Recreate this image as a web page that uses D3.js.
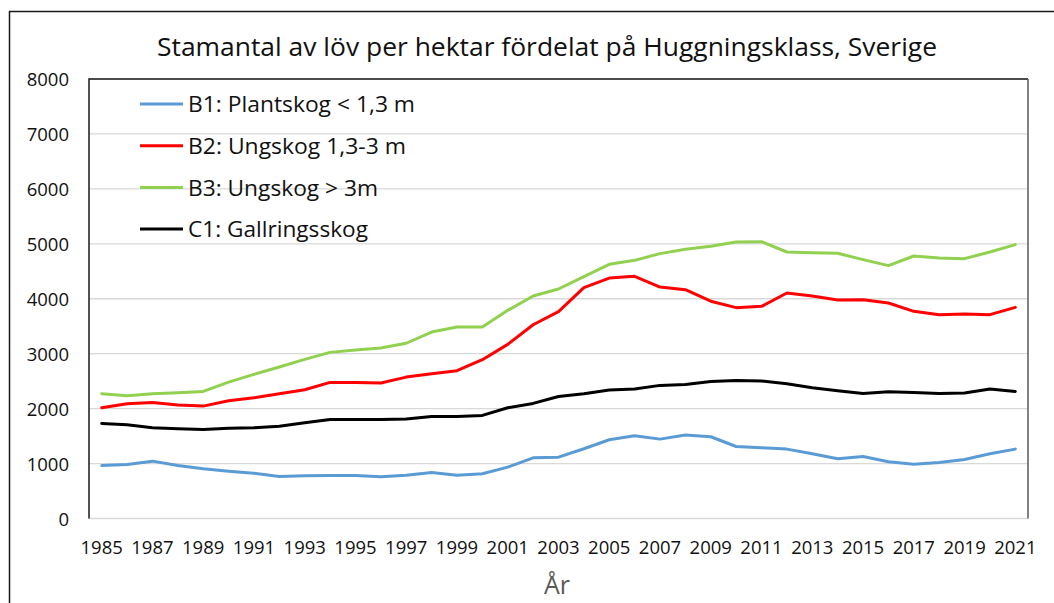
<!DOCTYPE html>
<html>
<head>
<meta charset="utf-8">
<script src="https://cdn.jsdelivr.net/npm/d3@7"></script>
<style>
  html, body { margin: 0; padding: 0; background: #fff; }
  svg { display: block; font-family: "Open Sans", sans-serif; }
</style>
</head>
<body>
<svg id="chart" width="1054" height="603"></svg>
<script>
// years on the category axis
const years = d3.range(1985, 2022);

// Stamantal per hektar
const b1 = [965, 984, 1044, 965, 905, 862, 825, 765, 778, 783, 783, 759, 786,
  838, 789, 814, 935, 1105, 1117, 1269, 1433, 1506, 1445, 1518, 1488,
  1311, 1287, 1263, 1178, 1087, 1129, 1032, 989, 1020, 1075, 1178, 1263];
const b2 = [2016, 2089, 2113, 2064, 2046, 2144, 2198, 2271, 2344, 2477, 2477, 2465, 2574,
  2635, 2690, 2890, 3169, 3527, 3765, 4202, 4377, 4408, 4213, 4165, 3955,
  3838, 3862, 4104, 4050, 3977, 3983, 3922, 3771, 3710, 3722, 3710, 3843];
const b3 = [2271, 2235, 2271, 2289, 2313, 2483, 2623, 2757, 2896, 3024, 3066, 3103, 3190,
  3394, 3485, 3485, 3789, 4050, 4177, 4402, 4627, 4699, 4821, 4900, 4957,
  5033, 5039, 4851, 4839, 4827, 4712, 4603, 4778, 4742, 4730, 4851, 4985];
const c1 = [1730, 1706, 1651, 1634, 1621, 1645, 1651, 1681, 1743, 1803, 1803, 1803, 1812,
  1858, 1858, 1876, 2016, 2095, 2222, 2271, 2338, 2356, 2423, 2441, 2492,
  2514, 2502, 2453, 2380, 2326, 2277, 2307, 2295, 2277, 2283, 2356, 2313];

const seriesNames = ["B1: Plantskog < 1,3 m", "B2: Ungskog 1,3-3 m", "B3: Ungskog > 3m", "C1: Gallringsskog"];
const seriesColors = ["#5B9BD5", "#FF0000", "#92D050", "#000000"];
const legendWidths = [227, 218, 190, 180];
const yTicks = [0, 1000, 2000, 3000, 4000, 5000, 6000, 7000, 8000];

const title = "Stamantal av löv per hektar fördelat på Huggningsklass, Sverige";
const xTitle = "År";

const series = [b1, b2, b3, c1].map((vals, i) => ({
  name: seriesNames[i],
  color: seriesColors[i],
  values: vals.map((v, j) => ({ year: years[j], value: v }))
}));

const svg = d3.select("#chart");
const plot = { left: 89, right: 1028, top: 79, bottom: 518.5 };

const x = d3.scaleBand()
  .domain(years)
  .range([plot.left, plot.right]);

const y = d3.scaleLinear()
  .domain([0, 8000])
  .range([plot.bottom, plot.top]);

// outer chart frame (runs off the right and bottom edges)
svg.append("rect")
  .attr("x", 9.5).attr("y", 11.5)
  .attr("width", 1060).attr("height", 620)
  .attr("fill", "#fff")
  .attr("stroke", "#1a1a1a")
  .attr("stroke-width", 1.5);

// gridlines
svg.append("g")
  .selectAll("line")
  .data(yTicks)
  .join("line")
  .attr("x1", plot.left).attr("x2", plot.right)
  .attr("y1", d => y(d)).attr("y2", d => y(d))
  .attr("stroke", "#d9d9d9")
  .attr("stroke-width", 1.3);

// plot frame: dark on top/left, grey on right
svg.append("path")
  .attr("d", `M${plot.left},${plot.bottom}V${plot.top}H${plot.right}`)
  .attr("fill", "none")
  .attr("stroke", "#1a1a1a")
  .attr("stroke-width", 1.5);
svg.append("line")
  .attr("x1", plot.right).attr("x2", plot.right)
  .attr("y1", plot.top).attr("y2", plot.bottom)
  .attr("stroke", "#595959")
  .attr("stroke-width", 1.5);

// y axis labels
const yAxis = svg.append("g")
  .attr("transform", `translate(${plot.left - 20},0)`)
  .call(d3.axisLeft(y).tickValues(yTicks).tickSize(0).tickPadding(0).tickFormat(d3.format("d")));
yAxis.select(".domain").remove();
yAxis.selectAll("text")
  .attr("font-family", "Open Sans")
  .attr("font-size", 18.5)
  .attr("fill", "#111")
  .attr("dy", "0.36em");

// x axis labels, every other year
const xAxis = svg.append("g")
  .attr("transform", `translate(0,${plot.bottom})`)
  .call(d3.axisBottom(x).tickValues(years.filter(d => (d - 1985) % 2 === 0)).tickSize(0).tickPadding(0));
xAxis.select(".domain").remove();
xAxis.selectAll("text")
  .attr("font-family", "Open Sans")
  .attr("font-size", 18.5)
  .attr("fill", "#111")
  .attr("y", 35.5)
  .attr("dy", 0);

// lines
const line = d3.line()
  .x(d => x(d.year) + x.bandwidth() / 2)
  .y(d => y(d.value));

svg.append("g")
  .selectAll("path")
  .data(series)
  .join("path")
  .attr("d", d => line(d.values))
  .attr("fill", "none")
  .attr("stroke", d => d.color)
  .attr("stroke-width", 3)
  .attr("stroke-linejoin", "round")
  .attr("stroke-linecap", "round");

// legend
const legend = svg.append("g")
  .selectAll("g")
  .data(series)
  .join("g")
  .attr("transform", (d, i) => `translate(140,${104 + i * 41.7})`);

legend.append("line")
  .attr("x1", 0).attr("x2", 43)
  .attr("stroke", d => d.color)
  .attr("stroke-width", 3);

legend.append("text")
  .attr("x", 48)
  .attr("y", 8.3)
  .attr("font-size", 21)
  .attr("fill", "#111")
  .attr("textLength", (d, i) => legendWidths[i])
  .attr("lengthAdjust", "spacingAndGlyphs")
  .text(d => d.name);

// title
svg.append("text")
  .attr("x", 547)
  .attr("y", 56)
  .attr("text-anchor", "middle")
  .attr("font-size", 25)
  .attr("fill", "#111")
  .attr("textLength", 780)
  .attr("lengthAdjust", "spacingAndGlyphs")
  .text(title);

// x axis title
svg.append("text")
  .attr("x", 557)
  .attr("y", 594)
  .attr("text-anchor", "middle")
  .attr("font-size", 25)
  .attr("fill", "#595959")
  .text(xTitle);
</script>
</body>
</html>
